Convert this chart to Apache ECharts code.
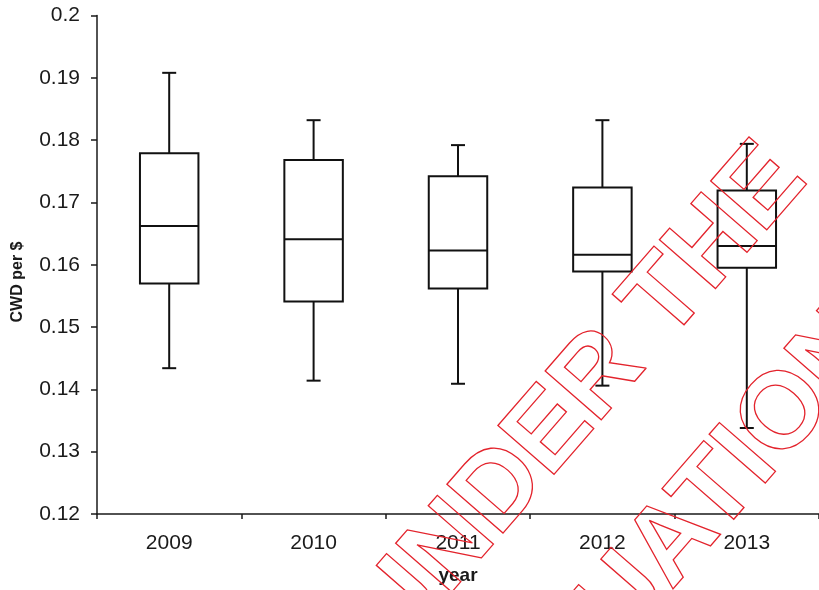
<!DOCTYPE html>
<html>
<head>
<meta charset="utf-8">
<script src="https://cdn.jsdelivr.net/npm/echarts@6/dist/echarts.min.js"></script>
<style>html,body{margin:0;padding:0;background:#fff;}#c{width:819px;height:590px;}</style>
</head>
<body>
<div id="c"></div>
<script>
const categories = ['2009', '2010', '2011', '2012', '2013'];
const minV   = [0.1434, 0.1414, 0.1409, 0.1406, 0.1338];
const q1V    = [0.1570, 0.1541, 0.1562, 0.1589, 0.1595];
const medV   = [0.1662, 0.1641, 0.1623, 0.1616, 0.1630];
const q3V    = [0.1779, 0.1768, 0.1742, 0.1724, 0.1719];
const maxV   = [0.1908, 0.1832, 0.1792, 0.1832, 0.1794];
const yTicks = { min: 0.12, max: 0.2, interval: 0.01 };

const data = categories.map((c, i) => [i, minV[i], q1V[i], medV[i], q3V[i], maxV[i]]);
const FONT = '"Liberation Sans", Arial, sans-serif';
const INK = '#1a1a1a';
const WM_ANGLE = 49 * Math.PI / 180;

const chart = echarts.init(document.getElementById('c'), null, { renderer: 'canvas' });
chart.setOption({
  backgroundColor: '#fff',
  animation: false,
  grid: { left: 97, top: 15.5, width: 730, height: 502.5, containLabel: false },
  xAxis: {
    type: 'category', data: categories, boundaryGap: true,
    name: 'year', nameLocation: 'middle', nameGap: 52,
    nameTextStyle: { fontFamily: FONT, fontWeight: 'bold', fontSize: 19, color: INK },
    axisLine: { lineStyle: { color: INK, width: 1.5 } },
    axisTick: { show: true, alignWithLabel: false, length: 5, inside: false, lineStyle: { color: INK, width: 1.5 } },
    axisLabel: { fontFamily: FONT, fontSize: 21, color: INK, margin: 19 },
    splitLine: { show: false }
  },
  yAxis: {
    type: 'value', min: yTicks.min, max: yTicks.max, interval: yTicks.interval,
    axisLine: { show: true, lineStyle: { color: INK, width: 1.5 } },
    axisTick: { show: true, length: 6, lineStyle: { color: INK, width: 1.5 } },
    axisLabel: { fontFamily: FONT, fontSize: 21, color: INK, margin: 17,
      formatter: v => String(Math.round(v * 100) / 100) },
    splitLine: { show: false }
  },
  series: [{
    type: 'custom',
    data: data,
    encode: { x: 0, y: [1, 2, 3, 4, 5] },
    renderItem: function (params, api) {
      const i = api.value(0);
      const pMin = api.coord([i, api.value(1)]);
      const pQ1 = api.coord([i, api.value(2)]);
      const pMed = api.coord([i, api.value(3)]);
      const pQ3 = api.coord([i, api.value(4)]);
      const pMax = api.coord([i, api.value(5)]);
      const bw = api.size([1, 0])[0] * 0.405;
      const x = pMed[0];
      const cap = 7;
      const ls = { stroke: '#111', lineWidth: 2, fill: null };
      return {
        type: 'group',
        children: [
          { type: 'rect', shape: { x: x - bw / 2, y: pQ3[1], width: bw, height: pQ1[1] - pQ3[1] },
            style: { stroke: '#111', lineWidth: 2, fill: '#fff' } },
          { type: 'line', shape: { x1: x - bw / 2, y1: pMed[1], x2: x + bw / 2, y2: pMed[1] }, style: ls },
          { type: 'line', shape: { x1: x, y1: pQ3[1], x2: x, y2: pMax[1] }, style: ls },
          { type: 'line', shape: { x1: x - cap, y1: pMax[1], x2: x + cap, y2: pMax[1] }, style: ls },
          { type: 'line', shape: { x1: x, y1: pQ1[1], x2: x, y2: pMin[1] }, style: ls },
          { type: 'line', shape: { x1: x - cap, y1: pMin[1], x2: x + cap, y2: pMin[1] }, style: ls }
        ]
      };
    }
  }],
  graphic: [
    { type: 'text', x: 18, y: 282, rotation: Math.PI / 2, z: 10,
      style: { text: 'CWD per $', font: 'bold 16px ' + FONT, fill: INK, align: 'center', verticalAlign: 'middle' } },
    { type: 'text', x: 580, y: 399, rotation: WM_ANGLE, z: 100,
      style: { text: 'UNDER THE', font: 'bold 108px ' + FONT, fill: 'rgba(0,0,0,0)', stroke: '#e3232c', lineWidth: 1.3, align: 'center', verticalAlign: 'middle' } },
    { type: 'text', x: 864, y: 324, rotation: WM_ANGLE, z: 100,
      style: { text: 'EVALUATION', font: 'bold 108px ' + FONT, fill: 'rgba(0,0,0,0)', stroke: '#e3232c', lineWidth: 1.3, align: 'right', verticalAlign: 'middle' } }
  ]
});
</script>
</body>
</html>
